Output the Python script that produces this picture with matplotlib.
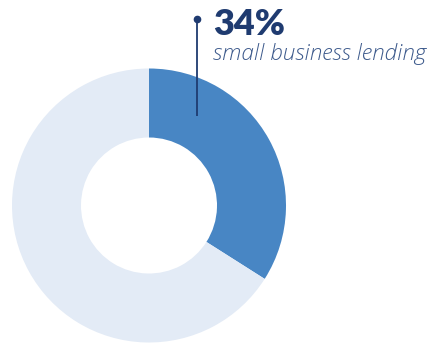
import matplotlib

matplotlib.use("Agg")
import matplotlib.pyplot as plt

# share of portfolio
labels = ["small business lending", "other"]
shares = [34, 66]
colors = ["#4886c4", "#e3ebf6"]

W, H = 430, 343
fig = plt.figure(figsize=(W / 100, H / 100), dpi=100)
ax = fig.add_axes([0, 0, 1, 1])

ax.pie(
    shares,
    colors=colors,
    startangle=90,
    counterclock=False,
    center=(149, H - 205.5),
    radius=137,
    wedgeprops=dict(width=69, linewidth=0),
)
ax.set_xlim(0, W)
ax.set_ylim(0, H)
ax.set_aspect("equal")
ax.axis("off")

# callout leader
navy = "#1f3b70"
ax.plot([197, 197], [H - 19, H - 116], color=navy, lw=1.3, solid_capstyle="butt")
ax.plot([197], [H - 19], "o", color=navy, ms=4.5)

ax.text(213, H - 35, f"{shares[0]}%", fontsize=26, fontweight="heavy", color=navy,
        family=["Lato", "DejaVu Sans"], va="baseline", ha="left")
ax.text(213, H - 60, labels[0], fontsize=16.2, style="italic", fontweight="light",
        color="#3d5a8c", family=["Open Sans", "DejaVu Sans"], va="baseline", ha="left")

fig.savefig("out.png", dpi=100)
